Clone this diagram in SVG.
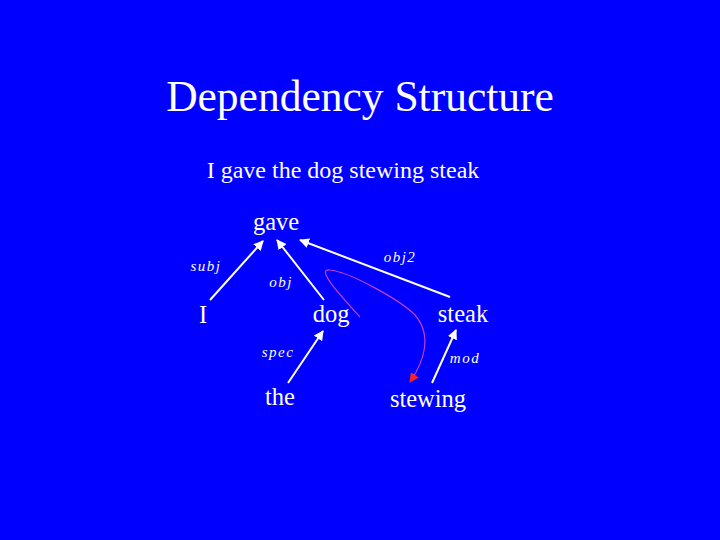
<svg xmlns="http://www.w3.org/2000/svg" width="720" height="540" viewBox="0 0 720 540">
<style>
text{font-family:"Liberation Serif","Times New Roman",serif;fill:#fff}
.w{font-size:24.5px;text-anchor:middle}
.l{font-size:15px;font-style:italic;text-anchor:middle;letter-spacing:1.5px}
.e{stroke:#fff;stroke-width:2;fill:none;marker-end:url(#a)}
</style>
<defs>
<marker id="a" viewBox="0 0 10 10" refX="9" refY="5" markerWidth="5" markerHeight="5" orient="auto" markerUnits="strokeWidth"><path d="M0,0L10,5L0,10z" fill="#fff"/></marker>
<marker id="r" viewBox="0 0 10 10" refX="9" refY="5" markerWidth="8" markerHeight="8" orient="auto" markerUnits="strokeWidth"><path d="M0,0L10,5L0,10z" fill="#ff2020"/></marker>
</defs>
<rect width="720" height="540" fill="#0000ff"/>
<text x="360" y="111" font-size="43.5" text-anchor="middle">Dependency Structure</text>
<text x="343" y="178" font-size="24" text-anchor="middle">I gave the dog stewing steak</text>
<g id="connectors">
<line class="e" x1="210" y1="300" x2="263" y2="241"/>
<line class="e" x1="324" y1="300" x2="277" y2="240"/>
<line class="e" x1="450" y1="297" x2="300" y2="240"/>
<line class="e" x1="288" y1="383" x2="323" y2="331"/>
<line class="e" x1="432" y1="383" x2="456" y2="330"/>
<path d="M360,317 C340,295 315,268 330,270 C350,272 400,300 415,315 C432,335 425,360 410,382" stroke="#c040d0" stroke-width="1.2" fill="none" marker-end="url(#r)"/>
<text class="l" x="206" y="271">subj</text>
<text class="l" x="400" y="262">obj2</text>
<text class="l" x="281" y="287">obj</text>
<text class="l" x="278" y="357">spec</text>
<text class="l" x="465" y="363">mod</text>
</g>
<g id="gave"><text class="w" x="276" y="230">gave</text></g>
<g id="I"><text class="w" x="203" y="323">I</text></g>
<g id="dog"><text class="w" x="331" y="322">dog</text></g>
<g id="steak"><text class="w" x="463" y="322">steak</text></g>
<g id="the"><text class="w" x="280" y="405">the</text></g>
<g id="stewing"><text class="w" x="428" y="407">stewing</text></g>
</svg>
